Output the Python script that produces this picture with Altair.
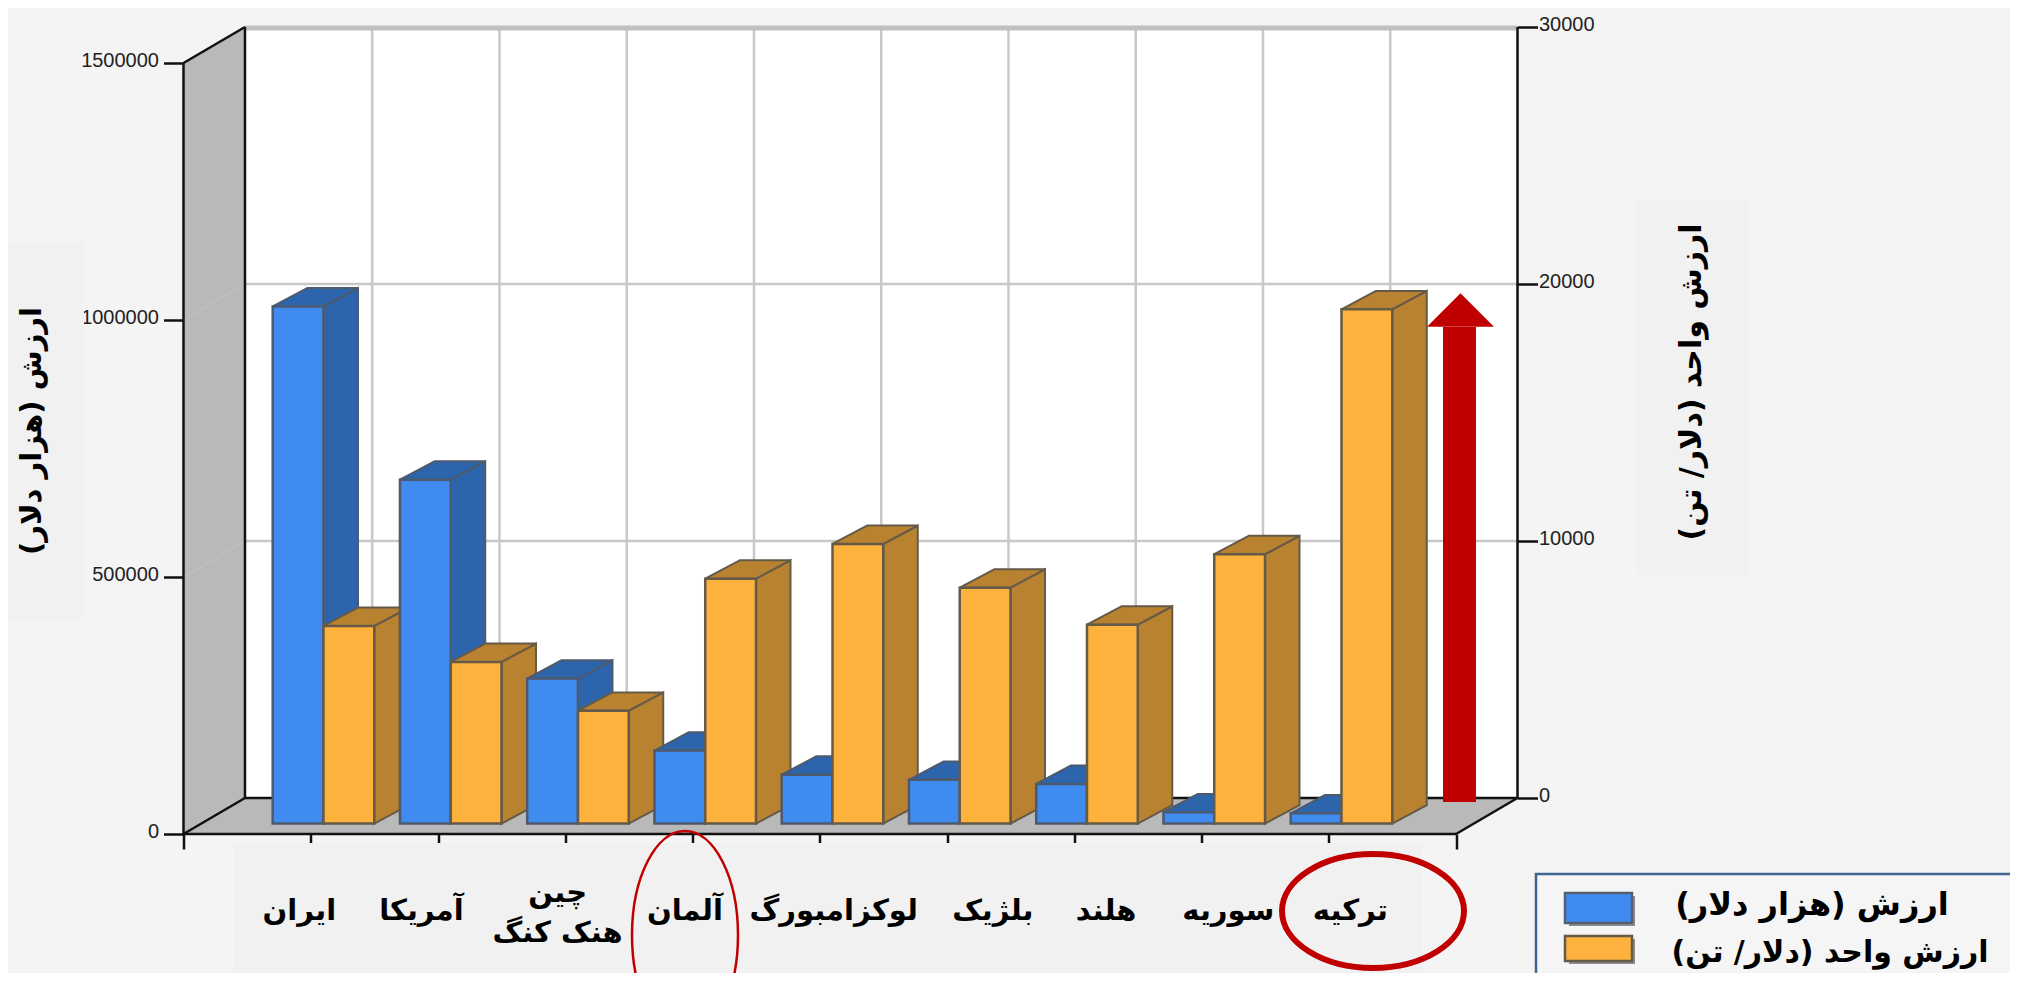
import altair as alt
import pandas as pd

countries = ["ایران", "آمریکا", "چین\nهنک کنگ", "آلمان", "لوکزامبورگ", "بلژیک", "هلند", "سوریه", "ترکیه"]
trade_value = [1006000, 669000, 282000, 142000, 95000, 85000, 77000, 22000, 20000]
unit_value = [7690, 6290, 4390, 9530, 10880, 9180, 7740, 10480, 20010]
left_ticks = [0, 500000, 1000000, 1500000]
right_ticks = [0, 10000, 20000, 30000]
label_pos = [0.91, 1.87, 2.94, 3.94, 5.11, 6.36, 7.25, 8.21, 9.17]
title_left = "ارزش (هزار دلار)"
title_right = "ارزش واحد (دلار/ تن)"

W, H = 1334, 807
LEFT, TOP = 183.5, 27
XMAX = 10 + 61.5 / 127.3
DX = 61.5 / 127.3
YMAX = 1500000 * H / 771
DY = 36 / 771 * 1500000
UNIT = 1500000 / 30000
BW = 0.399
D0, D1 = 0.29, 0.80
BG = "#f4f4f4"
PANEL = "#f1f1f1"
FONT = "DejaVu Sans"

xs = alt.Scale(domain=[0, XMAX], nice=False, zero=False)
ys = alt.Scale(domain=[0, YMAX], nice=False, zero=False)
ys2 = alt.Scale(domain=[-36 / 771 * 30000, 30000], nice=False, zero=False)

X = alt.X("x:Q", scale=xs, axis=None)
Y = alt.Y("y:Q", scale=ys, axis=None)
X2 = alt.X2("x2")
Y2 = alt.Y2("y2")
one = pd.DataFrame({"a": [0]})


def rule(x1, y1, x2, y2, color, w):
    d = pd.DataFrame({"x": [x1], "x2": [x2], "y": [y1], "y2": [y2]})
    return alt.Chart(d).mark_rule(color=color, strokeWidth=w).encode(X, Y, x2=X2, y2=Y2)


def px_rect(x1, y1, x2, y2, fill, stroke=None, sw=0):
    kw = {"fill": fill, "strokeWidth": sw}
    if stroke:
        kw["stroke"] = stroke
    return alt.Chart(one).mark_rect(**kw).encode(
        x=alt.value(x1 - LEFT), x2=alt.value(x2 - LEFT),
        y=alt.value(y1 - TOP), y2=alt.value(y2 - TOP))


def px_text(t, x, y, size, angle=0, weight="bold"):
    return alt.Chart(one).mark_text(text=t, font=FONT, fontSize=size, fontWeight=weight,
                                    angle=angle, color="#000", align="center", baseline="middle").encode(
        x=alt.value(x - LEFT), y=alt.value(y - TOP))


def ellipse(cx, cy, rx, ry, color, sw):
    k = ry / rx
    path = f"M-1,0A1,{k:.4f},0,1,1,1,0A1,{k:.4f},0,1,1,-1,0Z"
    return alt.Chart(one).mark_point(shape=path, size=(2 * rx) ** 2, filled=False, stroke=color,
                                     strokeWidth=sw, opacity=1).encode(
        x=alt.value(cx - LEFT), y=alt.value(cy - TOP))


# ---- left axis and x axis
axis_layer = alt.Chart(pd.DataFrame({"x": [0], "y": [0]})).mark_point(opacity=0).encode(
    x=alt.X("x:Q", scale=xs, axis=alt.Axis(orient="bottom", values=list(range(11)), labels=False, title=None,
                                           grid=False, domain=False, ticks=True, tickSize=15, tickWidth=2.5,
                                           tickColor="#111")),
    y=alt.Y("y:Q", scale=ys, axis=alt.Axis(orient="left", values=left_ticks, title=None, grid=False, domain=False,
                                           tickSize=20, tickWidth=2.5, tickColor="#111", labelPadding=5,
                                           labelFont="Liberation Sans", labelFontSize=20, labelColor="#222",
                                           labelOffset=-3, format="d")),
)

# ---- background panels, walls and floor
base = []
base.append(px_rect(0, 242, 84, 620, PANEL))
base.append(px_rect(1637, 199, 1748, 575, PANEL))
base.append(px_rect(630, 0, 1428, 9, PANEL))
base.append(px_rect(234, 843, 1422, 990, PANEL))

wall = pd.DataFrame({"x": [DX], "x2": [XMAX], "y": [DY], "y2": [YMAX]})
base.append(alt.Chart(wall).mark_rect(fill="#ffffff").encode(X, Y, x2=X2, y2=Y2))
lw = pd.DataFrame({"x": [0, DX], "y": [1500000, YMAX], "y2": [0, DY]})
base.append(alt.Chart(lw).mark_area(color="#b9b9b9", orient="vertical").encode(X, Y, y2=Y2))
fl = pd.DataFrame({"y": [0, DY], "x": [0, DX], "x2": [10, XMAX]})
base.append(alt.Chart(fl).mark_area(color="#b9b9b9", orient="horizontal").encode(X, Y, x2=X2))
for v in left_ticks[1:3]:
    base.append(rule(0, v, DX, v + DY, "#bfbfbf", 1.5))
for i in range(1, 10):
    base.append(rule(i + DX, DY, i + DX, YMAX, "#c8c8c8", 2.5))
base.append(rule(DX, YMAX - 2000, XMAX, YMAX - 2000, "#c0c0c0", 5))
base_layer = alt.layer(*base)

# ---- right axis and its grid lines on the secondary scale
rg = pd.DataFrame({"v": right_ticks, "x": [DX] * 4, "x2": [XMAX] * 4,
                   "c": ["#00000000", "#c8c8c8", "#c8c8c8", "#00000000"]})
right_layer = alt.Chart(rg).mark_rule(strokeWidth=2.5).encode(
    x=X, x2=X2,
    y=alt.Y("v:Q", scale=ys2, axis=alt.Axis(orient="right", values=right_ticks, title=None, grid=False,
                                            domain=False, tickSize=20, tickWidth=2.5, tickColor="#111",
                                            labelPadding=1, labelFont="Liberation Sans", labelFontSize=20,
                                            labelColor="#222", labelOffset=-3, format="d")),
    color=alt.Color("c:N", scale=None),
)

# ---- structural black lines and bars
fg = []
K = "#111111"
fg.append(rule(DX, 0 + DY, XMAX, DY, K, 2.5))
fg.append(rule(DX, DY, DX, YMAX, K, 2.5))
fg.append(rule(XMAX, DY, XMAX, YMAX, K, 2.5))
fg.append(rule(0, 1500000, DX, YMAX, K, 2.5))
fg.append(rule(0, 0, DX, DY, K, 2.5))
fg.append(rule(10, 0, XMAX, DY, K, 2.5))
fg.append(rule(0, 0, 0, 1500000, K, 2.5))
fg.append(rule(0, 0, 10, 0, K, 2.5))

STY = {"blue": ("#3f8bf0", "#2d65ad", "#4d5a6e"), "orange": ("#fdb23e", "#b88231", "#655a48")}


def bar(xl, v, key):
    front, dark, edge = STY[key]
    xr = xl + BW
    ddx = (D1 - D0) * DX * 1.1
    y0, y1 = D0 * DY, D1 * DY
    side = pd.DataFrame({"x": [xr, xr + ddx], "y": [v + y0, v + y1], "y2": [y0, y1]})
    top = pd.DataFrame({"y": [v + y0, v + y1], "x": [xl, xl + ddx], "x2": [xr, xr + ddx]})
    f = pd.DataFrame({"x": [xl], "x2": [xr], "y": [v + y0], "y2": [y0]})
    return [
        alt.Chart(side).mark_area(color=dark, stroke=edge, strokeWidth=2, orient="vertical").encode(X, Y, y2=Y2),
        alt.Chart(top).mark_area(color=dark, stroke=edge, strokeWidth=2, orient="horizontal").encode(X, Y, x2=X2),
        alt.Chart(f).mark_rect(fill=front, stroke=edge, strokeWidth=2.5).encode(X, Y, x2=X2, y2=Y2),
    ]


for i in range(len(countries)):
    c = i + 1 + 0.10
    fg += bar(c - BW, trade_value[i], "blue")
    fg += bar(c, unit_value[i] * UNIT, "orange")

# ---- category labels
lab = pd.DataFrame({"x": label_pos, "t": countries})
one_line = lab[~lab["t"].str.contains("\n")]
two_line = lab[lab["t"].str.contains("\n")]
fg.append(alt.Chart(one_line).mark_text(font=FONT, fontSize=29, fontWeight="bold", color="#000",
                                        baseline="middle").encode(
    x=X, y=alt.value(911 - TOP), text="t:N"))
fg.append(alt.Chart(two_line).mark_text(font=FONT, fontSize=29, fontWeight="bold", color="#000", lineBreak="\n",
                                        lineHeight=40, baseline="middle").encode(
    x=X, y=alt.value(893 - TOP), text="t:N"))

# ---- annotations
fg.append(px_rect(1443, 327, 1476, 802, "#c00000"))
fg.append(alt.Chart(one).mark_point(shape="M0,-0.5L1,0.5L-1,0.5Z", size=67 ** 2, filled=True, fill="#c00000",
                                    stroke="#c00000", strokeWidth=0, opacity=1).encode(
    x=alt.value(1460.5 - LEFT), y=alt.value(310 - TOP)))
fg.append(ellipse(1373, 911, 91, 57, "#c00000", 6))
fg.append(ellipse(685, 935, 53, 104, "#c00000", 2.5))

# ---- axis titles
fg.append(px_text(title_left, 32, 431, 29, angle=270))
fg.append(px_text(title_right, 1692, 382, 30, angle=270))

# ---- legend
fg.append(px_rect(1536, 874, 2030, 1000, "#f5f5f5", "#3f6691", 2.5))
fg.append(px_rect(1569, 896, 1635, 926, "#8c8c8c"))
fg.append(px_rect(1565, 893, 1632, 923, "#3f8bf0", "#555f70", 2.5))
fg.append(px_rect(1569, 939, 1635, 964, "#8c8c8c"))
fg.append(px_rect(1565, 936, 1632, 961, "#fdb23e", "#655a48", 2.5))
fg.append(px_text(title_left, 1812, 905, 32))
fg.append(px_text(title_right, 1830, 953, 30))
fg_layer = alt.layer(*fg)

chart = alt.layer(axis_layer, base_layer, right_layer, fg_layer).resolve_scale(y="independent").resolve_axis(
    x="independent").properties(
    width=W, height=H,
    background=BG,
    autosize=alt.AutoSizeParams(type="none"),
    padding={"left": LEFT - 8, "top": TOP - 8, "right": 2002 - (LEFT - 8) - W, "bottom": 965 - (TOP - 8) - H},
).configure_view(stroke=None)

chart.save("out.html", embed_options={"renderer": "svg", "actions": False})
